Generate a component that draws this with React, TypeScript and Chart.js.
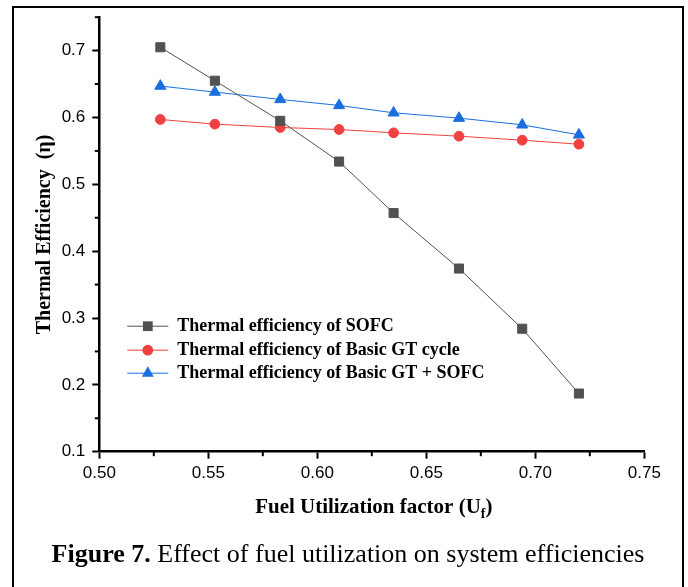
import React, { useEffect, useRef } from 'react';
import { Chart, registerables } from 'chart.js';

Chart.register(...registerables);

// ---- data ----
const fuelUtilization = [0.528, 0.553, 0.583, 0.61, 0.635, 0.665, 0.694, 0.72];
const sofcEfficiency = [0.705, 0.655, 0.595, 0.534, 0.457, 0.374, 0.284, 0.187];
const gtEfficiency = [0.597, 0.59, 0.585, 0.582, 0.577, 0.572, 0.566, 0.56];
const gtSofcEfficiency = [0.647, 0.638, 0.627, 0.618, 0.607, 0.599, 0.589, 0.574];

const seriesNames = [
  'Thermal efficiency of SOFC',
  'Thermal efficiency of Basic GT cycle',
  'Thermal efficiency of Basic GT + SOFC',
];
const seriesColors = ['#515151', '#F14040', '#1A6FDF'];
const seriesMarkers = ['rect', 'circle', 'triangle'];

const xTickValues = [0.5, 0.525, 0.55, 0.575, 0.6, 0.625, 0.65, 0.675, 0.7, 0.725, 0.75];
const xTickLabels = ['0.50', '', '0.55', '', '0.60', '', '0.65', '', '0.70', '', '0.75'];
const yTickValues = [0.1, 0.15, 0.2, 0.25, 0.3, 0.35, 0.4, 0.45, 0.5, 0.55, 0.6, 0.65, 0.7, 0.75];
const yTickLabels = ['0.1', '', '0.2', '', '0.3', '', '0.4', '', '0.5', '', '0.6', '', '0.7', ''];

const xTitleMain = 'Fuel Utilization factor (U';
const xTitleSub = 'f';
const xTitleEnd = ')';
const yTitle = 'Thermal Efficiency  (\u03B7)';

const SERIF = '"Liberation Serif", "Times New Roman", serif';
const SANS = '"Liberation Sans", Arial, sans-serif';

function drawMarker(ctx: CanvasRenderingContext2D, style: string, x: number, y: number, r: number) {
  ctx.beginPath();
  if (style === 'rect') {
    const s = Math.SQRT1_2 * r;
    ctx.rect(x - s, y - s, 2 * s, 2 * s);
  } else if (style === 'circle') {
    ctx.arc(x, y, r, 0, Math.PI * 2);
  } else {
    for (let k = 0; k < 3; k++) {
      const a = (k * 2 * Math.PI) / 3;
      const px = x + Math.sin(a) * r;
      const py = y - Math.cos(a) * r;
      if (k === 0) ctx.moveTo(px, py);
      else ctx.lineTo(px, py);
    }
    ctx.closePath();
  }
  ctx.fill();
}

const markerRadius: Record<string, number> = { rect: 6.4, circle: 4.9, triangle: 6.4 };

const decorPlugin = {
  id: 'decor',
  afterDraw(chart: any) {
    const { ctx, chartArea, scales } = chart;
    ctx.save();
    // minor ticks
    ctx.strokeStyle = '#000';
    ctx.lineWidth = 2;
    xTickValues.forEach((v, i) => {
      if (xTickLabels[i]) return;
      const px = scales.x.getPixelForValue(v);
      ctx.beginPath();
      ctx.moveTo(px, chartArea.bottom);
      ctx.lineTo(px, chartArea.bottom + 4.5);
      ctx.stroke();
    });
    yTickValues.forEach((v, i) => {
      if (yTickLabels[i]) return;
      const py = scales.y.getPixelForValue(v);
      ctx.beginPath();
      ctx.moveTo(chartArea.left - 4.5, py);
      ctx.lineTo(chartArea.left, py);
      ctx.stroke();
    });

    // x axis title with subscript
    const mainFont = `bold 21px ${SERIF}`;
    const subFont = `bold 14px ${SERIF}`;
    ctx.fillStyle = '#000';
    ctx.textBaseline = 'alphabetic';
    ctx.textAlign = 'left';
    ctx.font = mainFont;
    const w1 = ctx.measureText(xTitleMain).width;
    const w3 = ctx.measureText(xTitleEnd).width;
    ctx.font = subFont;
    const w2 = ctx.measureText(xTitleSub).width;
    const cx = (chartArea.left + chartArea.right) / 2 + 2;
    let tx = cx - (w1 + w2 + w3) / 2;
    const baseY = chartArea.bottom + 61.5;
    ctx.font = mainFont;
    ctx.fillText(xTitleMain, tx, baseY);
    tx += w1;
    ctx.font = subFont;
    ctx.fillText(xTitleSub, tx, baseY + 5);
    tx += w2;
    ctx.font = mainFont;
    ctx.fillText(xTitleEnd, tx, baseY);

    // legend
    const lx = chartArea.left + 28;
    const rowOffsets = [309, 333, 356];
    seriesNames.forEach((name, i) => {
      const y = chartArea.top + rowOffsets[i];
      ctx.strokeStyle = seriesColors[i];
      ctx.lineWidth = 1;
      ctx.beginPath();
      ctx.moveTo(lx, y);
      ctx.lineTo(lx + 41, y);
      ctx.stroke();
      ctx.fillStyle = seriesColors[i];
      drawMarker(ctx, seriesMarkers[i], lx + 20.5, y, markerRadius[seriesMarkers[i]] + 0.5);
      ctx.fillStyle = '#000';
      ctx.font = `bold 18px ${SERIF}`;
      ctx.textBaseline = 'alphabetic';
      ctx.fillText(name, lx + 50, y + 5);
    });
    ctx.restore();
  },
};

export default function App() {
  const canvasRef = useRef<HTMLCanvasElement | null>(null);

  useEffect(() => {
    if (!canvasRef.current) return;
    const seriesValues = [sofcEfficiency, gtEfficiency, gtSofcEfficiency];
    const chart = new Chart(canvasRef.current, {
      type: 'line',
      data: {
        datasets: seriesValues.map((vals, i) => ({
          label: seriesNames[i],
          data: fuelUtilization.map((x, k) => ({ x, y: vals[k] })),
          borderColor: seriesColors[i],
          backgroundColor: seriesColors[i],
          borderWidth: 1,
          pointStyle: seriesMarkers[i] as any,
          pointRadius: markerRadius[seriesMarkers[i]],
          pointBorderWidth: 1,
          pointBackgroundColor: seriesColors[i],
          pointBorderColor: seriesColors[i],
          tension: 0,
          fill: false,
        })),
      },
      options: {
        animation: false,
        responsive: false,
        maintainAspectRatio: false,
        layout: { padding: { left: 0, top: 15, right: 43.7, bottom: 0 } },
        plugins: { legend: { display: false }, tooltip: { enabled: false } },
        scales: {
          x: {
            type: 'linear',
            min: 0.5,
            max: 0.75,
            afterBuildTicks: (scale: any) => {
              scale.ticks = xTickValues.map((v) => ({ value: v }));
            },
            afterFit: (scale: any) => {
              scale.height = 88.3;
            },
            grid: {
              drawOnChartArea: false,
              drawTicks: true,
              tickLength: 7,
              tickWidth: 2,
              tickColor: (c: any) => (xTickLabels[c.index] ? '#000' : 'rgba(0,0,0,0)'),
            },
            border: { display: true, color: '#000', width: 2.5 },
            ticks: {
              autoSkip: false,
              maxRotation: 0,
              padding: 4,
              color: '#000',
              font: { family: SANS, size: 17 },
              callback: (_v: any, i: number) => xTickLabels[i],
            },
          },
          y: {
            type: 'linear',
            min: 0.1,
            max: 0.75,
            afterBuildTicks: (scale: any) => {
              scale.ticks = yTickValues.map((v) => ({ value: v }));
            },
            afterFit: (scale: any) => {
              scale.width = 99.3;
            },
            grid: {
              drawOnChartArea: false,
              drawTicks: true,
              tickLength: 7,
              tickWidth: 2,
              tickColor: (c: any) => (yTickLabels[c.index] ? '#000' : 'rgba(0,0,0,0)'),
            },
            border: { display: true, color: '#000', width: 2.5 },
            ticks: {
              autoSkip: false,
              padding: 7,
              color: '#000',
              font: { family: SANS, size: 17 },
              callback: (_v: any, i: number) => yTickLabels[i],
            },
            title: {
              display: true,
              text: yTitle,
              color: '#000',
              font: { family: SERIF, size: 20, weight: 'bold' },
              padding: { top: 33, bottom: 0 },
            },
          },
        },
      },
      plugins: [decorPlugin],
    } as any);
    return () => chart.destroy();
  }, []);

  return (
    <div style={{ position: 'absolute', left: 0, top: 0, width: 688, height: 587, overflow: 'hidden', background: '#fff' }}>
      <div
        style={{
          position: 'absolute',
          left: 12,
          top: 6,
          width: 672,
          height: 620,
          border: '2.5px solid #000',
          boxSizing: 'border-box',
        }}
      />
      <canvas
        ref={canvasRef}
        width={688}
        height={540}
        style={{ position: 'absolute', left: 0, top: 0, width: 688, height: 540 }}
      />
      <div
        style={{
          position: 'absolute',
          left: 4,
          top: 539,
          width: 688,
          textAlign: 'center',
          fontFamily: SERIF,
          fontSize: 26,
          lineHeight: '30px',
          color: '#000',
          whiteSpace: 'nowrap',
        }}
      >
        <b>Figure 7.</b> Effect of fuel utilization on system efficiencies
      </div>
    </div>
  );
}
